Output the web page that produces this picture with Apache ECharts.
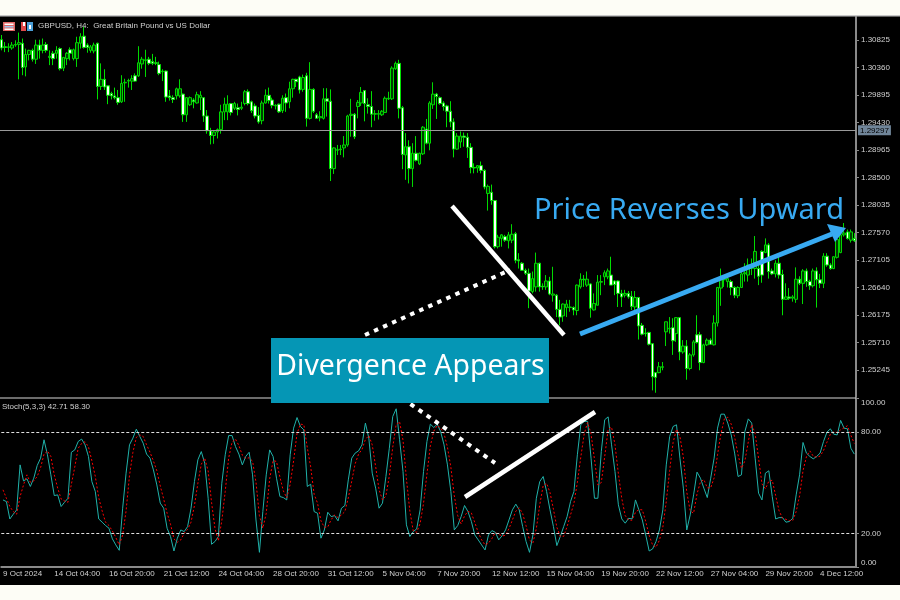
<!DOCTYPE html>
<html>
<head>
<meta charset="utf-8">
<script src="https://cdn.jsdelivr.net/npm/echarts@6/dist/echarts.min.js"></script>
<style>
html,body{margin:0;padding:0;background:#fdfdf6;}
#main{width:900px;height:600px;}
</style>
</head>
<body>
<div id="main"></div>
<script>
// GBPUSD H4 bars
var opens = [
1.3083,1.3071,1.3070,1.3069,1.3074,1.3075,1.3077,1.3037,1.3058,1.3065,
1.3050,1.3074,1.3065,1.3075,1.3053,1.3060,1.3060,1.3068,1.3035,1.3051,
1.3066,1.3051,1.3051,1.3077,1.3089,1.3074,1.3065,1.3064,1.3077,1.3004,
1.3016,1.3005,1.2992,1.2988,1.2985,1.2978,1.3010,1.3013,1.3013,1.3022,
1.3022,1.3042,1.3048,1.3050,1.3046,1.3044,1.3041,1.3029,1.3030,1.2988,
1.2985,1.2988,1.2988,1.2991,1.2956,1.2973,1.2981,1.2976,1.2985,1.2985,
1.2954,1.2929,1.2921,1.2927,1.2931,1.2961,1.2961,1.2975,1.2967,1.2968,
1.2967,1.2975,1.2995,1.2978,1.2971,1.2955,1.2946,1.2976,1.2989,1.2981,
1.2971,1.2974,1.2963,1.2985,1.2978,1.3000,1.3016,1.3020,1.2999,1.3022,
1.2950,1.2999,1.2956,1.2951,1.2950,1.2983,1.2979,1.2865,1.2896,1.2897,
1.2900,1.2905,1.2955,1.2957,1.2970,1.2976,1.2997,1.2973,1.2970,1.2957,
1.2957,1.2956,1.2960,1.2983,1.2983,1.3034,1.3043,1.2968,1.2888,1.2902,
1.2865,1.2891,1.2873,1.2890,1.2932,1.2908,1.2973,1.2991,1.2985,1.2976,
1.2971,1.2962,1.2944,1.2898,1.2910,1.2920,1.2918,1.2901,1.2867,1.2866,
1.2870,1.2862,1.2823,1.2825,1.2811,1.2733,1.2747,1.2750,1.2743,1.2744,
1.2755,1.2711,1.2705,1.2693,1.2688,1.2657,1.2665,1.2705,1.2666,1.2665,
1.2675,1.2651,1.2651,1.2627,1.2616,1.2630,1.2630,1.2630,1.2625,1.2665,
1.2678,1.2668,1.2670,1.2626,1.2634,1.2673,1.2682,1.2682,1.2685,1.2675,
1.2675,1.2654,1.2651,1.2654,1.2649,1.2631,1.2647,1.2600,1.2587,1.2588,
1.2569,1.2520,1.2520,1.2529,1.2589,1.2594,1.2596,1.2586,1.2613,1.2555,
1.2565,1.2527,1.2550,1.2584,1.2584,1.2537,1.2567,1.2575,1.2567,1.2604,
1.2663,1.2677,1.2674,1.2674,1.2664,1.2650,1.2664,1.2687,1.2685,1.2696,
1.2696,1.2696,1.2725,1.2723,1.2736,1.2692,1.2687,1.2705,1.2686,1.2644,
1.2648,1.2646,1.2644,1.2678,1.2671,1.2692,1.2674,1.2667,1.2692,1.2677,
1.2671,1.2717,1.2702,1.2696,1.2715,1.2723,1.2753,1.2758,1.2744,1.2747];
var closes = [
1.3069,1.3070,1.3071,1.3074,1.3075,1.3078,1.3036,1.3058,1.3065,1.3050,
1.3074,1.3065,1.3074,1.3065,1.3055,1.3051,1.3065,1.3034,1.3053,1.3060,
1.3060,1.3066,1.3078,1.3088,1.3070,1.3070,1.3071,1.3074,1.3004,1.3016,
1.3003,1.2989,1.2988,1.2985,1.2977,1.3009,1.3011,1.3014,1.3017,1.3013,
1.3044,1.3050,1.3049,1.3043,1.3043,1.3043,1.3026,1.3030,1.2986,1.2985,
1.2982,1.3000,1.3000,1.2956,1.2985,1.2985,1.2978,1.2990,1.2989,1.2954,
1.2929,1.2921,1.2927,1.2931,1.2961,1.2974,1.2974,1.2960,1.2975,1.2965,
1.2969,1.2995,1.2975,1.2963,1.2954,1.2944,1.2976,1.2989,1.2980,1.2972,
1.2972,1.2961,1.2984,1.2976,1.3000,1.3016,1.3012,1.2998,1.3019,1.2950,
1.2999,1.2962,1.2950,1.2953,1.2983,1.2979,1.2865,1.2900,1.2897,1.2898,
1.2905,1.2954,1.2957,1.2919,1.2977,1.2994,1.2975,1.2970,1.2957,1.2958,
1.2958,1.2962,1.2984,1.2984,1.3035,1.3043,1.2967,1.2889,1.2902,1.2865,
1.2891,1.2879,1.2891,1.2935,1.2908,1.2976,1.2991,1.2987,1.2975,1.2970,
1.2962,1.2944,1.2898,1.2920,1.2920,1.2918,1.2901,1.2867,1.2866,1.2870,
1.2862,1.2834,1.2835,1.2811,1.2733,1.2749,1.2753,1.2744,1.2753,1.2754,
1.2710,1.2709,1.2693,1.2688,1.2658,1.2679,1.2705,1.2665,1.2665,1.2675,
1.2653,1.2653,1.2627,1.2614,1.2636,1.2636,1.2631,1.2626,1.2668,1.2678,
1.2677,1.2678,1.2629,1.2637,1.2673,1.2674,1.2689,1.2692,1.2668,1.2669,
1.2654,1.2648,1.2654,1.2648,1.2632,1.2647,1.2599,1.2585,1.2586,1.2568,
1.2513,1.2512,1.2530,1.2530,1.2606,1.2595,1.2574,1.2613,1.2555,1.2565,
1.2527,1.2550,1.2572,1.2571,1.2537,1.2567,1.2575,1.2568,1.2604,1.2664,
1.2677,1.2678,1.2679,1.2664,1.2651,1.2664,1.2687,1.2689,1.2702,1.2702,
1.2725,1.2683,1.2685,1.2736,1.2691,1.2687,1.2705,1.2685,1.2644,1.2648,
1.2646,1.2648,1.2678,1.2671,1.2692,1.2674,1.2667,1.2692,1.2677,1.2671,
1.2717,1.2702,1.2696,1.2716,1.2745,1.2753,1.2756,1.2747,1.2758,1.2743];
var lows = [
1.3065,1.3062,1.3062,1.3066,1.3071,1.3016,1.3023,1.3021,1.3048,1.3046,
1.3042,1.3051,1.3060,1.3061,1.3040,1.3040,1.3051,1.3031,1.3030,1.3040,
1.3048,1.3048,1.3037,1.3068,1.3068,1.3061,1.3061,1.3060,1.2982,1.2998,
1.2998,1.2974,1.2982,1.2982,1.2973,1.2976,1.2978,1.3002,1.2998,1.3012,
1.3020,1.3034,1.3020,1.3040,1.3040,1.3040,1.3023,1.3013,1.2978,1.2980,
1.2976,1.2982,1.2985,1.2944,1.2944,1.2971,1.2967,1.2975,1.2964,1.2944,
1.2924,1.2906,1.2907,1.2916,1.2924,1.2947,1.2947,1.2955,1.2964,1.2955,
1.2964,1.2972,1.2972,1.2959,1.2950,1.2941,1.2940,1.2975,1.2975,1.2967,
1.2965,1.2959,1.2959,1.2961,1.2967,1.2985,1.3003,1.2992,1.2995,1.2936,
1.2948,1.2959,1.2949,1.2945,1.2948,1.2953,1.2844,1.2856,1.2888,1.2888,
1.2884,1.2902,1.2919,1.2915,1.2950,1.2971,1.2945,1.2958,1.2935,1.2946,
1.2948,1.2954,1.2959,1.2981,1.2981,1.3032,1.2950,1.2864,1.2846,1.2840,
1.2834,1.2877,1.2871,1.2888,1.2906,1.2896,1.2966,1.2949,1.2973,1.2963,
1.2935,1.2935,1.2884,1.2897,1.2900,1.2902,1.2883,1.2857,1.2857,1.2858,
1.2857,1.2830,1.2794,1.2804,1.2730,1.2730,1.2733,1.2741,1.2730,1.2739,
1.2705,1.2696,1.2692,1.2685,1.2629,1.2654,1.2657,1.2657,1.2660,1.2660,
1.2651,1.2640,1.2614,1.2600,1.2606,1.2614,1.2623,1.2617,1.2617,1.2662,
1.2665,1.2665,1.2613,1.2625,1.2634,1.2651,1.2668,1.2678,1.2668,1.2651,
1.2631,1.2631,1.2647,1.2645,1.2626,1.2625,1.2576,1.2583,1.2581,1.2566,
1.2490,1.2486,1.2519,1.2524,1.2565,1.2586,1.2550,1.2572,1.2541,1.2552,
1.2508,1.2524,1.2547,1.2569,1.2524,1.2536,1.2565,1.2567,1.2566,1.2598,
1.2633,1.2665,1.2664,1.2651,1.2646,1.2646,1.2663,1.2674,1.2674,1.2685,
1.2679,1.2668,1.2672,1.2722,1.2679,1.2685,1.2681,1.2679,1.2617,1.2643,
1.2643,1.2640,1.2638,1.2668,1.2636,1.2665,1.2660,1.2664,1.2630,1.2663,
1.2663,1.2699,1.2694,1.2695,1.2713,1.2722,1.2750,1.2745,1.2740,1.2741];
var highs = [
1.3091,1.3079,1.3077,1.3079,1.3082,1.3095,1.3085,1.3068,1.3066,1.3068,
1.3083,1.3083,1.3085,1.3079,1.3065,1.3064,1.3072,1.3070,1.3054,1.3062,
1.3070,1.3068,1.3088,1.3094,1.3105,1.3077,1.3074,1.3078,1.3078,1.3043,
1.3033,1.3006,1.2995,1.3002,1.2998,1.3023,1.3017,1.3017,1.3023,1.3026,
1.3072,1.3054,1.3066,1.3054,1.3059,1.3054,1.3046,1.3033,1.3031,1.2998,
1.2989,1.3002,1.3016,1.2992,1.2986,1.2987,1.2984,1.2995,1.2996,1.2986,
1.2964,1.2934,1.2929,1.2933,1.2973,1.2985,1.2989,1.2976,1.2978,1.2975,
1.2978,1.2998,1.2999,1.2980,1.2975,1.2969,1.2980,1.2999,1.3002,1.2985,
1.2974,1.2975,1.2989,1.2992,1.3012,1.3017,1.3017,1.3022,1.3024,1.3027,
1.3045,1.3001,1.2959,1.2962,1.3001,1.3001,1.2999,1.2901,1.2905,1.2905,
1.2920,1.2956,1.2983,1.2959,1.2981,1.3003,1.2998,1.2984,1.2996,1.2964,
1.2964,1.2964,1.2987,1.2995,1.3038,1.3046,1.3049,1.2971,1.2925,1.2913,
1.2908,1.2920,1.2892,1.2937,1.2949,1.2979,1.3011,1.2993,1.2987,1.2979,
1.2973,1.2979,1.2950,1.2925,1.2928,1.2926,1.2925,1.2908,1.2874,1.2871,
1.2877,1.2864,1.2838,1.2838,1.2812,1.2753,1.2754,1.2753,1.2758,1.2771,
1.2758,1.2722,1.2707,1.2696,1.2696,1.2691,1.2723,1.2706,1.2671,1.2685,
1.2682,1.2699,1.2653,1.2643,1.2637,1.2643,1.2643,1.2632,1.2669,1.2688,
1.2685,1.2691,1.2671,1.2654,1.2685,1.2685,1.2693,1.2696,1.2716,1.2676,
1.2676,1.2660,1.2660,1.2658,1.2658,1.2658,1.2648,1.2604,1.2595,1.2589,
1.2570,1.2521,1.2538,1.2538,1.2606,1.2614,1.2612,1.2614,1.2614,1.2575,
1.2575,1.2553,1.2575,1.2617,1.2589,1.2569,1.2578,1.2578,1.2617,1.2665,
1.2696,1.2682,1.2682,1.2677,1.2666,1.2666,1.2691,1.2705,1.2713,1.2713,
1.2751,1.2702,1.2727,1.2747,1.2739,1.2696,1.2710,1.2716,1.2694,1.2671,
1.2663,1.2651,1.2698,1.2683,1.2695,1.2696,1.2677,1.2696,1.2698,1.2687,
1.2722,1.2722,1.2705,1.2717,1.2753,1.2758,1.2773,1.2762,1.2762,1.2756];

// Stoch(5,3,3)
var stochK = [
39.8,38.8,28.5,31.3,33.9,60.6,51.1,52.3,47.8,52.7,
60.2,64.6,75.5,66.6,54.7,42.4,42.8,35.9,38.4,40.8,
68.1,69.5,74.5,75.9,72.5,65.6,50.7,44.8,28.5,26.6,
24.6,23.0,16.7,13.1,9.9,34.9,55.7,72.5,76.5,81.8,
77.5,73.5,67.0,64.6,57.6,48.7,37.9,34.9,23.0,18.1,
9.5,17.1,22.0,21.0,24.0,34.9,50.7,63.6,68.5,61.6,
40.8,13.5,15.1,18.1,49.7,66.6,78.0,78.0,71.5,67.0,
60.6,65.6,68.1,54.7,27.9,8.7,32.9,54.7,69.5,65.6,
52.7,41.8,41.2,39.8,66.6,82.4,88.7,83.4,81.4,47.8,
49.1,32.9,31.9,17.1,22.0,32.5,29.9,30.5,27.4,34.9,
36.5,51.7,64.6,67.6,68.9,72.5,85.4,76.5,55.7,46.8,
34.9,37.9,53.7,70.5,89.3,93.9,75.5,56.7,25.0,18.1,
21.0,22.6,33.9,56.7,74.5,84.8,82.8,84.8,80.4,72.5,
60.6,44.8,22.0,24.6,29.9,36.5,32.9,27.0,19.0,16.1,
13.1,10.1,19.0,21.6,20.6,16.1,18.6,22.0,27.9,33.9,
37.3,33.9,24.0,15.1,8.7,19.0,40.8,50.7,53.7,44.8,
33.9,24.0,12.7,18.1,24.0,29.9,38.8,44.8,66.6,84.4,
86.4,86.4,64.6,40.8,40.8,68.5,87.4,89.1,72.5,56.7,
36.9,28.5,26.0,28.9,28.5,39.8,33.9,27.9,19.0,9.5,
10.7,15.1,22.0,33.9,60.6,77.5,83.4,84.4,64.6,46.8,
22.0,30.9,42.8,56.3,52.7,46.8,41.2,52.7,64.6,82.4,
90.7,90.7,85.4,78.4,67.6,53.7,54.7,80.4,87.9,85.4,
64.6,43.8,39.8,55.7,57.1,41.8,28.5,29.3,29.3,26.6,
27.0,28.9,42.8,54.7,73.9,67.6,65.6,64.2,65.6,67.6,
74.5,80.0,82.0,78.8,78.4,87.0,82.4,82.0,70.5,67.0];
var stochD = [
45.8,40.8,35.9,32.9,31.3,41.8,48.7,54.7,50.3,51.1,
53.7,59.0,67.0,68.9,65.6,54.7,46.8,40.4,39.2,38.4,
49.1,59.4,70.5,73.3,74.3,71.3,63.0,53.7,41.2,33.3,
26.6,24.6,21.4,17.5,13.1,19.0,33.3,54.3,68.1,76.9,
78.4,77.5,72.5,68.1,63.0,57.1,48.1,40.4,31.9,25.4,
16.7,14.7,16.1,20.0,22.4,26.6,36.5,49.7,61.0,64.6,
57.1,38.4,23.0,15.5,27.4,44.8,64.6,74.1,75.9,72.1,
66.4,64.4,64.8,62.8,50.3,30.5,23.0,31.9,52.3,63.2,
62.6,53.3,45.2,41.0,49.1,63.0,79.2,84.8,84.4,70.9,
59.4,43.2,37.9,27.4,23.6,23.8,28.1,30.9,29.3,30.9,
32.9,41.0,50.9,61.2,67.0,69.7,75.7,78.0,72.5,59.6,
45.8,39.8,42.2,54.1,71.1,84.6,86.2,75.3,52.3,33.3,
21.4,20.6,25.8,37.7,55.1,71.9,80.6,84.0,82.6,79.2,
71.1,59.2,42.4,30.5,25.6,30.3,33.1,32.1,26.4,20.6,
16.1,13.1,14.1,16.9,20.4,19.4,18.4,18.8,22.8,27.9,
33.1,35.1,31.7,24.4,15.9,14.3,22.8,36.9,48.3,49.7,
44.2,34.3,23.6,18.2,18.2,24.0,30.9,37.9,50.1,65.2,
79.0,85.8,79.0,64.0,48.7,50.1,65.6,81.6,83.0,72.7,
55.3,40.6,30.5,27.8,27.8,32.5,34.1,33.9,27.0,18.8,
13.1,11.7,15.9,23.6,38.8,57.3,73.9,81.8,77.5,65.2,
44.4,33.3,31.9,43.4,50.5,51.9,47.0,47.0,52.9,66.6,
79.2,87.9,88.9,84.8,77.1,66.6,58.6,63.0,74.3,84.6,
79.2,64.6,49.3,46.4,50.9,51.5,42.4,33.3,29.1,28.3,
27.6,27.6,32.9,42.2,57.1,65.4,68.9,65.8,65.2,65.8,
69.1,74.1,78.8,80.2,79.8,81.4,82.6,83.8,78.2,73.3];

var priceTicks = [1.25245,1.25710,1.26175,1.26640,1.27105,1.27570,1.28035,1.28500,1.28965,1.29430,1.29895,1.30360,1.30825];
var stochTicks = [0,20,80,100];
var stochLevels = [20,80];
var lastPrice = 1.29297;
var timeIndex = [0,15,31,47,63,79,95,111,127,143,159,175,191,207,223,239];
var timeLabels = ['9 Oct 2024','14 Oct 04:00','16 Oct 20:00','21 Oct 12:00','24 Oct 04:00','28 Oct 20:00','31 Oct 12:00','5 Nov 04:00','7 Nov 20:00','12 Nov 12:00','15 Nov 04:00','19 Nov 20:00','22 Nov 12:00','27 Nov 04:00','29 Nov 20:00','4 Dec 12:00'];

var categories = [];
var candles = [];
for (var i = 0; i < opens.length; i++) {
  categories.push('');
  candles.push([opens[i], closes[i], lows[i], highs[i]]);
}
timeIndex.forEach(function (idx, n) { categories[idx] = timeLabels[n]; });

var smallFont = 'Liberation Sans';
var axisGray = '#8a8a8a';
var labelGray = '#d0d0d0';
var blue = '#38aaf2';

function hasLabel(idx, value) { return value !== ''; }

// annotations drawn on top of the chart
function seg(x1, y1, x2, y2, color, w, dash) {
  return {
    type: 'line', z: 100, silent: true,
    shape: {x1: x1, y1: y1, x2: x2, y2: y2},
    style: {stroke: color, lineWidth: w, lineDash: dash || null}
  };
}
function box(x, y, w, h, color, z) {
  return {type: 'rect', z: z, silent: true, shape: {x: x, y: y, width: w, height: h}, style: {fill: color}};
}
var graphics = [
  box(0, 16, 900, 569, '#000', -10),
  box(0, 15, 900, 1.5, '#c8c8c8', 90),
  box(0, 397.5, 856, 1, '#d8d8d8', 90),
  // window icons
  box(3, 22, 12, 9, '#e06666', 95), box(4.5, 23.5, 9, 1.5, '#fff', 96), box(4.5, 26, 9, 1.5, '#9cc4ea', 96), box(4.5, 28.5, 9, 1.5, '#fff', 96),
  box(21, 22, 5, 9, '#e04848', 95), box(27, 22, 6, 9, '#4a9fd8', 95), box(23, 22, 2, 4, '#fff', 96), box(29, 25, 2, 4, '#fff', 96),
  // annotations
  seg(452, 206, 564, 335, '#fff', 4.5),
  seg(365, 335, 510, 270, '#fff', 4, [4.5, 5.4]),
  seg(410.5, 404, 495, 463, '#fff', 4, [4.5, 5.4]),
  seg(465, 497, 595, 412, '#fff', 4.5),
  seg(580, 334, 832, 234, blue, 5),
  {type: 'polygon', z: 100, silent: true, shape: {points: [[827, 224], [846, 228], [835, 242]]}, style: {fill: blue}},
  box(271, 338, 278, 65, '#0596b5', 100),
  {type: 'text', z: 101, silent: true, style: {x: 410.5, y: 367, text: 'Divergence Appears', fill: '#fff', font: '28.4px "Noto Sans"', textAlign: 'center', textVerticalAlign: 'middle'}},
  {type: 'text', z: 101, silent: true, style: {x: 689, y: 211, text: 'Price Reverses Upward', fill: blue, font: '29px "Noto Sans"', textAlign: 'center', textVerticalAlign: 'middle'}}
];

var chart = echarts.init(document.getElementById('main'), null, {renderer: 'canvas'});
chart.setOption({
  animation: false,
  backgroundColor: 'transparent',
  title: [
    {text: 'GBPUSD, H4:  Great Britain Pound vs US Dollar', left: 38, top: 21.5, padding: 0, textStyle: {color: labelGray, fontSize: 8, fontWeight: 'normal', fontFamily: smallFont}},
    {text: 'Stoch(5,3,3) 42.71 58.30', left: 2, top: 402.5, padding: 0, textStyle: {color: labelGray, fontSize: 8, fontWeight: 'normal', fontFamily: smallFont}}
  ],
  grid: [
    {left: 0, top: 17, width: 856, height: 380},
    {left: 0, top: 398.5, width: 856, height: 168.5}
  ],
  xAxis: [
    {type: 'category', gridIndex: 0, data: categories, boundaryGap: true, show: false},
    {type: 'category', gridIndex: 1, data: categories, boundaryGap: true,
      axisLine: {lineStyle: {color: axisGray, width: 2}},
      axisTick: {alignWithLabel: true, interval: hasLabel, length: 3, lineStyle: {color: axisGray}},
      axisLabel: {interval: hasLabel, align: 'left', margin: 3, color: labelGray, fontSize: 8, fontFamily: smallFont, hideOverlap: false},
      splitLine: {show: false}}
  ],
  yAxis: [
    {type: 'value', gridIndex: 0, position: 'right', min: 1.24788, max: 1.31214, scale: true,
      axisLine: {show: true, lineStyle: {color: axisGray, width: 2}},
      axisTick: {show: true, length: 3, customValues: priceTicks, lineStyle: {color: axisGray}},
      axisLabel: {customValues: priceTicks, margin: 5, color: labelGray, fontSize: 8, fontFamily: smallFont, formatter: function (v) { return v.toFixed(5); }},
      splitLine: {show: false}},
    {type: 'value', gridIndex: 1, position: 'right', min: 0, max: 100,
      axisLine: {show: true, lineStyle: {color: axisGray, width: 2}},
      axisTick: {show: true, length: 3, customValues: stochTicks, lineStyle: {color: axisGray}},
      axisLabel: {customValues: stochTicks, margin: 5, color: labelGray, fontSize: 8, fontFamily: smallFont,
        verticalAlignMinLabel: 'bottom', verticalAlignMaxLabel: 'top',
        formatter: function (v) { return v.toFixed(2); }},
      splitLine: {show: false}}
  ],
  series: [
    {type: 'candlestick', name: 'GBPUSD', xAxisIndex: 0, yAxisIndex: 0, data: candles, barWidth: 3,
      itemStyle: {color: '#003c00', color0: '#ffffff', borderColor: '#00d800', borderColor0: '#00e000', borderWidth: 1},
      markLine: {silent: true, symbol: 'none', animation: false, precision: 5,
        lineStyle: {color: '#9a9a9a', width: 1, type: 'solid'},
        label: {position: 'end', distance: 2, formatter: lastPrice.toFixed(5), color: '#000', fontSize: 8, fontFamily: smallFont, backgroundColor: '#708599', padding: [1, 2]},
        data: [{yAxis: lastPrice}]}},
    {type: 'line', name: 'K', xAxisIndex: 1, yAxisIndex: 1, data: stochK, showSymbol: false, symbol: 'none',
      lineStyle: {color: '#20b2aa', width: 1},
      markLine: {silent: true, symbol: 'none', animation: false, label: {show: false},
        lineStyle: {color: '#e0e0e0', width: 1, type: [3, 2]},
        data: stochLevels.map(function (v) { return {yAxis: v}; })}},
    {type: 'line', name: 'D', xAxisIndex: 1, yAxisIndex: 1, data: stochD, showSymbol: false, symbol: 'none',
      lineStyle: {color: '#ff0000', width: 1, type: [2, 2]}}
  ],
  graphic: graphics
});
</script>
</body>
</html>
